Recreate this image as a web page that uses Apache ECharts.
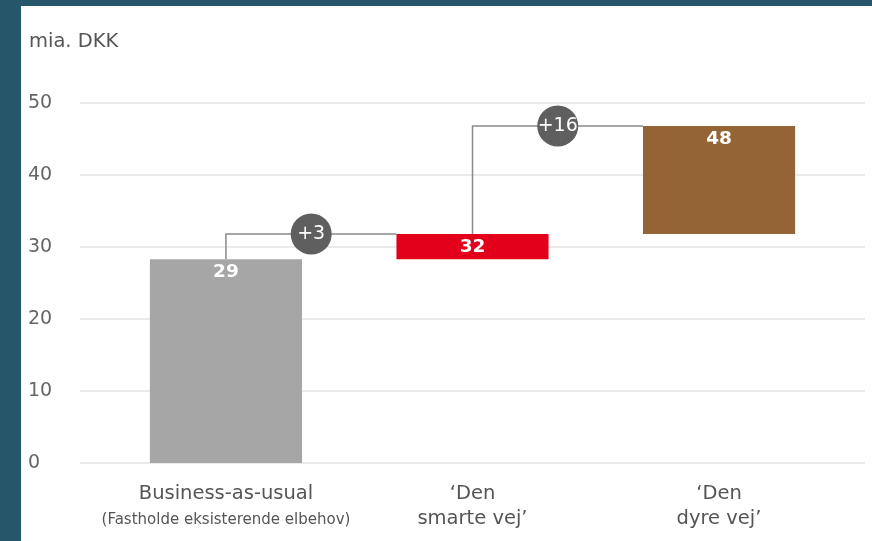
<!DOCTYPE html>
<html><head><meta charset="utf-8">
<script src="https://cdn.jsdelivr.net/npm/echarts@6/dist/echarts.min.js"></script>
<style>
html,body{margin:0;padding:0;background:#25566a;width:872px;height:541px;overflow:hidden}
#c{position:absolute;left:21px;top:6px;width:851px;height:535px;background:#fff}
</style></head><body><div id="c"></div>
<script>
// ---- data ----
const categories = ['Business-as-usual', '\u2018Den smarte vej\u2019', '\u2018Den dyre vej\u2019'];
const subLabels = ['(Fastholde eksisterende elbehov)', '', ''];
const barBase = [0, 28.3, 31.8];
const barTop = [28.3, 31.8, 46.8];
const barLabels = ['29', '32', '48'];
const deltaLabels = ['+3', '+16'];
const yMin = 0, yMax = 50, yStep = 10;
const unitLabel = 'mia. DKK';
const barColors = ['#a6a6a6', '#e2001a', '#956434'];

// ---- styles ----
const FONT = "'DejaVu Sans', sans-serif";
const BOLD = "'DejaVu Sans', sans-serif";
const BAR_W = 0.617;

const chart = echarts.init(document.getElementById('c'), null, {renderer: 'canvas'});

const barData = categories.map((c, i) => [i, barBase[i], barTop[i]]);
const connData = deltaLabels.map((d, i) => [i, barTop[i], barTop[i + 1]]);

function xLabel(v) {
  const i = Math.round(v);
  if (subLabels[i]) return '{a|' + categories[i] + '}\n{b|' + subLabels[i] + '}';
  const parts = categories[i].split(' ');
  return '{a|' + parts[0] + '}\n{a|' + parts.slice(1).join(' ') + '}';
}

chart.setOption({
  animation: false,
  title: {
    text: unitLabel, left: 8, top: 26, padding: 0,
    textStyle: {fontFamily: FONT, fontSize: 19.5, fontWeight: 'normal', color: '#555'}
  },
  grid: {left: 59, right: 7, top: 97, bottom: 78},
  xAxis: {
    type: 'value', min: -0.592, max: 2.592,
    axisLine: {show: false}, axisTick: {show: false}, splitLine: {show: false},
    axisLabel: {
      customValues: [0, 1, 2], margin: 19, formatter: xLabel,
      rich: {
        a: {fontFamily: FONT, fontSize: 19.5, color: '#555', lineHeight: 24.5, align: 'center'},
        b: {fontFamily: FONT, fontSize: 15, color: '#555', lineHeight: 27, align: 'center'}
      }
    }
  },
  yAxis: {
    type: 'value', min: yMin, max: yMax, interval: yStep,
    axisLine: {show: false}, axisTick: {show: false},
    splitLine: {lineStyle: {color: '#e3e3e3', width: 1.5}},
    axisLabel: {align: 'left', margin: 52, fontFamily: FONT, fontSize: 19, color: '#666'}
  },
  series: [
    {
      type: 'custom', data: connData, z: 2,
      renderItem: function (params, api) {
        const i = api.value(0), a = api.value(1), b = api.value(2);
        const p0 = api.coord([i, a]);
        const p1 = api.coord([i, b]);
        const nextLeft = api.coord([i + 1 - BAR_W / 2, b]);
        const cx = (p1[0] + nextLeft[0]) / 2;
        return {
          type: 'group', children: [
            {type: 'polyline', shape: {points: [p0, p1, nextLeft]},
             style: {stroke: '#8a8a8a', lineWidth: 1.5, fill: null}},
            {type: 'circle', shape: {cx: cx, cy: p1[1], r: 20.5}, style: {fill: '#5f5f5f'}, z2: 5},
            {type: 'text', x: cx, y: p1[1], z2: 6,
             style: {text: deltaLabels[params.dataIndex], fill: '#fff', fontFamily: FONT, fontSize: 19,
                     align: 'center', verticalAlign: 'middle'}}
          ]
        };
      }
    },
    {
      type: 'custom', data: barData, z: 3,
      renderItem: function (params, api) {
        const i = api.value(0), lo = api.value(1), hi = api.value(2);
        const p0 = api.coord([i, lo]);
        const p1 = api.coord([i, hi]);
        const w = api.size([BAR_W, 0])[0];
        return {
          type: 'group', children: [
            {type: 'rect', shape: {x: p0[0] - w / 2, y: p1[1], width: w, height: p0[1] - p1[1]},
             style: {fill: barColors[params.dataIndex]}},
            {type: 'text', x: p0[0], y: p1[1] + 13,
             style: {text: barLabels[params.dataIndex], fill: '#fff', fontFamily: BOLD, fontWeight: 'bold',
                     fontSize: 18.5, align: 'center', verticalAlign: 'middle'}}
          ]
        };
      }
    }
  ]
});
</script></body></html>
